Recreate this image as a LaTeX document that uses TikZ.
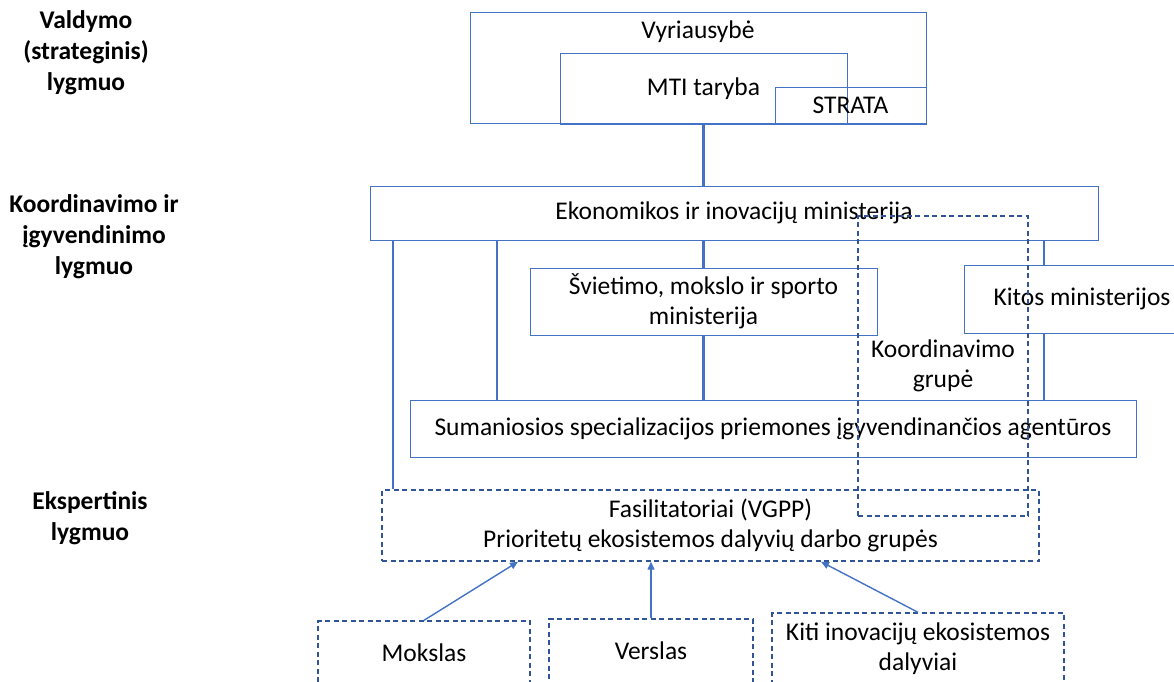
\documentclass[tikz,border=0pt]{standalone}
\usepackage{fontspec}
\setmainfont{Carlito}
\usetikzlibrary{arrows.meta}
\definecolor{boxblue}{HTML}{4472C4}
\definecolor{dashblue}{HTML}{2F5597}
\begin{document}
\begin{tikzpicture}[x=1pt,y=-1pt,
  box/.style={draw=boxblue, line width=1pt, rectangle, inner sep=0pt, align=center, font=\fontsize{25.5}{30}\selectfont},
  dbox/.style={draw=dashblue, line width=1.4pt, dash pattern=on 5pt off 3.5pt, rectangle, inner sep=0pt, align=center, font=\fontsize{25.5}{30}\selectfont},
  conn/.style={draw=boxblue, line width=2.2pt},
  arr/.style={draw=boxblue, line width=1.4pt, -{Triangle[length=8pt,width=7pt]}},
  lvl/.style={align=center, font=\bfseries\fontsize{25.5}{31}\selectfont, inner sep=0pt}
]
\useasboundingbox (0,0) rectangle (1174,681);
\fill[white] (0,0) rectangle (1174,681);

% level labels
\node[lvl] (l1) at (86,53) {Valdymo\\(strateginis)\\lygmuo};
\node[lvl] (l2) at (94,237) {Koordinavimo ir\\įgyvendinimo\\lygmuo};
\node[lvl] (l3) at (90,518) {Ekspertinis\\lygmuo};

% top level
\node[box, minimum width=456, minimum height=111,
      label={[anchor=base, yshift=-26pt, font=\fontsize{25.5}{30}\selectfont, inner sep=0pt]north:Vyriausybė}] (vyr) at (698,68) {};
\node[box, minimum width=287, minimum height=71] (mti) at (703.5,88.5) {MTI taryba};
\node[box, minimum width=151, minimum height=37] (str) at (850.5,105.5) {STRATA};

% coordination level
\node[box, minimum width=728, minimum height=54] (ek) at (734,213) {Ekonomikos ir inovacijų ministerija};
\node[box, minimum width=347, minimum height=67] (sv) at (703.5,301.5) {Švietimo, mokslo ir sporto\\ministerija};
\node[box, minimum width=236, minimum height=68] (kit) at (1082,299) {Kitos ministerijos};
\node[box, minimum width=726, minimum height=57] (sum) at (773,428.5) {Sumaniosios specializacijos priemones įgyvendinančios agentūros};
\node[dbox, minimum width=170, minimum height=300] (kg) at (943,366) {Koordinavimo\\grupė};

% expert level
\node[dbox, minimum width=657, minimum height=71] (fas) at (710.5,525.5) {Fasilitatoriai (VGPP)\\Prioritetų ekosistemos dalyvių darbo grupės};
\node[dbox, minimum width=212, minimum height=64] (mok) at (424,653) {Mokslas};
\node[dbox, minimum width=204, minimum height=64] (ver) at (651,651) {Verslas};
\node[dbox, minimum width=292, minimum height=72] (kiti) at (918,649) {Kiti inovacijų ekosistemos\\dalyviai};

% connectors
\draw[conn] (mti.south) -- (mti.south |- ek.north);
\draw[conn] (ek.south -| 393,0) -- (fas.north -| 393,0);
\draw[conn] (ek.south -| 497,0) -- (sum.north -| 497,0);
\draw[conn] (ek.south -| sv.north) -- (sv.north);
\draw[conn] (sv.south) -- (sv.south |- sum.north);
\draw[conn] (ek.south -| 1044,0) -- (kit.north -| 1044,0);
\draw[conn] (kit.south -| 1044,0) -- (sum.north -| 1044,0);

% arrows
\draw[arr] (mok.north) -- (fas.south -| 518,0);
\draw[arr] (ver.north) -- (ver.north |- fas.south);
\draw[arr] (kiti.north) -- (fas.south -| 821,0);
\end{tikzpicture}
\end{document}
